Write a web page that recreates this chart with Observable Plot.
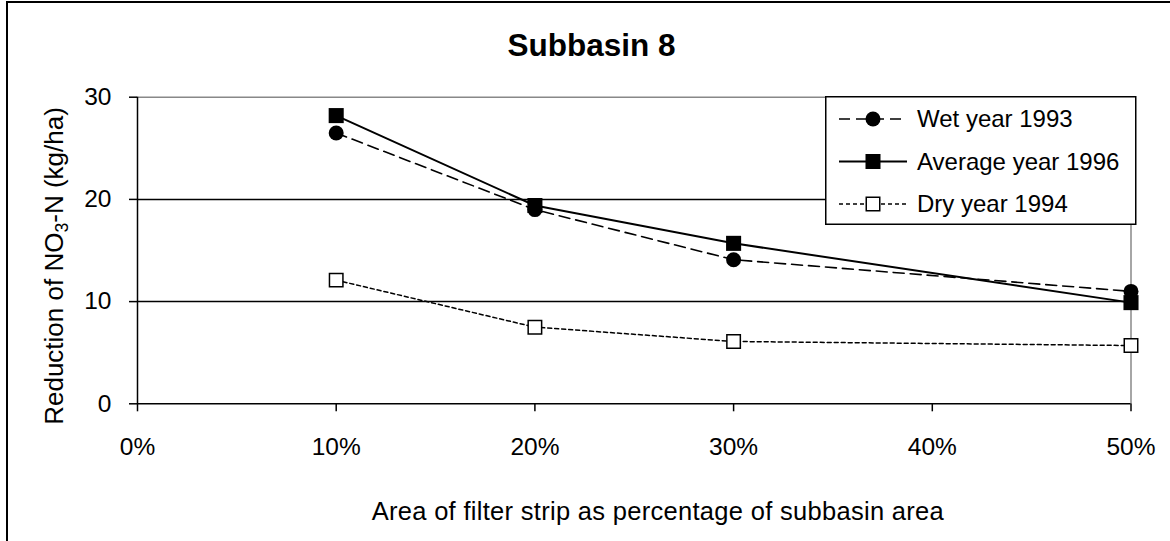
<!DOCTYPE html>
<html>
<head>
<meta charset="utf-8">
<script src="https://cdn.jsdelivr.net/npm/d3@7"></script>
<script src="https://cdn.jsdelivr.net/npm/@observablehq/plot@0.6"></script>
<style>
  html, body { margin: 0; padding: 0; background: #fff; overflow: hidden; }
  #wrap { position: relative; width: 1170px; height: 541px; font-family: "Liberation Sans", Arial, sans-serif; color: #000; }
  #frame { position: absolute; left: 6px; top: 1px; width: 1200px; height: 600px; border: 2px solid #000; box-sizing: border-box; }
  #chart { position: absolute; left: 0; top: 0; }
  #chart g[aria-label="x-axis tick"] path, #chart g[aria-label="y-axis tick"] path { stroke-width: 1.5; }
  .title { position: absolute; left: 391.5px; width: 400px; top: 30px; text-align: center; font-weight: bold; font-size: 31.5px; line-height: 1; white-space: nowrap; }
  .xlab { position: absolute; left: 371.7px; top: 498.5px; font-size: 25.5px; line-height: 1; letter-spacing: 0.3px; white-space: nowrap; }
  .ylab { position: absolute; left: 53.5px; top: 266px; font-size: 26px; line-height: 1; white-space: nowrap; transform: translate(-50%, -50%) rotate(-90deg); }
  .ylab sub { font-size: 0.68em; vertical-align: baseline; position: relative; top: 0.3em; line-height: 0; }
  #legend { position: absolute; left: 825px; top: 96px; }
</style>
</head>
<body>
<div id="wrap">
  <div id="frame"></div>
  <div id="chart"></div>
  <div class="title">Subbasin 8</div>
  <div class="ylab">Reduction of NO<sub>3</sub>-N (kg/ha)</div>
  <div class="xlab">Area of filter strip as percentage of subbasin area</div>
  <svg id="legend" width="313" height="130"></svg>
</div>
<script>
// filter strip area (share of subbasin area)
const pct = [0.1, 0.2, 0.3, 0.5];
// NO3-N reduction, kg/ha
const wet1993 = [26.5, 19.0, 14.1, 11.0];
const avg1996 = [28.2, 19.4, 15.7, 9.9];
const dry1994 = [12.1, 7.5, 6.1, 5.7];
const xTicks = [0, 0.1, 0.2, 0.3, 0.4, 0.5];
const yTicks = [0, 10, 20, 30];

const series = [
  {name: "Wet year 1993", values: wet1993, dash: "11,6", width: 1.6, symbol: "circle", r: 7.5, fill: "#000"},
  {name: "Average year 1996", values: avg1996, dash: null, width: 2, symbol: "square", r: 8.5, fill: "#000"},
  {name: "Dry year 1994", values: dry1994, dash: "4,3", width: 1.5, symbol: "square", r: 7.6, fill: "#fff"}
];

function rows(s) {
  return pct.map(function (p, i) { return {pct: p, v: s.values[i]}; });
}

const marks = [
  // gridlines (black) and the grey top edge
  Plot.ruleY([10, 20], {stroke: "#000", strokeWidth: 1.5}),
  Plot.ruleY([30], {stroke: "#888", strokeWidth: 1.5}),
  Plot.ruleX([0.5], {stroke: "#888", strokeWidth: 1.5}),
  Plot.ruleX([0], {stroke: "#000", strokeWidth: 1.5}),
  Plot.ruleY([0], {stroke: "#000", strokeWidth: 1.5})
];
series.forEach(function (s) {
  const d = rows(s);
  marks.push(Plot.line(d, {x: "pct", y: "v", stroke: "#000", strokeWidth: s.width, strokeDasharray: s.dash}));
});
series.forEach(function (s) {
  const d = rows(s);
  marks.push(Plot.dot(d, {x: "pct", y: "v", symbol: () => s.symbol, r: s.r, fill: s.fill, stroke: "#000", strokeWidth: s.fill === "#fff" ? 1.5 : 0}));
});

const chart = Plot.plot({
  width: 1170,
  height: 541,
  marginLeft: 137,
  marginRight: 39.5,
  marginTop: 96.7,
  marginBottom: 137.7,
  style: {background: "transparent", color: "#000", fontFamily: "'Liberation Sans', Arial, sans-serif", fontSize: "24.5px", overflow: "visible"},
  x: {domain: [0, 0.5], ticks: xTicks, tickFormat: d3.format(".0%"), tickSize: 8, tickPadding: 26, label: null},
  y: {domain: [0, 30], ticks: yTicks, tickSize: 8, tickPadding: 18, label: null},
  symbol: {type: "identity"},
  marks: marks
});
document.getElementById("chart").appendChild(chart);

// legend
const leg = d3.select("#legend");
leg.append("rect").attr("x", 0.75).attr("y", 0.75).attr("width", 310).attr("height", 127.5)
  .attr("fill", "#fff").attr("stroke", "#000").attr("stroke-width", 1.5);
const rowY = [23, 65.5, 108];
series.forEach(function (s, i) {
  const g = leg.append("g").attr("transform", "translate(0," + rowY[i] + ")");
  g.append("line").attr("x1", 14).attr("x2", 82).attr("y1", 0).attr("y2", 0)
    .attr("stroke", "#000").attr("stroke-width", s.width).attr("stroke-dasharray", s.dash);
  if (s.symbol === "circle") {
    g.append("circle").attr("cx", 48).attr("cy", 0).attr("r", 7.5).attr("fill", "#000");
  } else {
    const side = s.fill === "#000" ? 15 : 13.5;
    g.append("rect").attr("x", 48 - side / 2).attr("y", -side / 2).attr("width", side).attr("height", side)
      .attr("fill", s.fill).attr("stroke", "#000").attr("stroke-width", s.fill === "#fff" ? 1.5 : 0);
  }
  g.append("text").attr("x", 92).attr("y", 8.3).attr("font-size", 24)
    .attr("font-family", "'Liberation Sans', Arial, sans-serif").text(s.name);
});
</script>
</body>
</html>
